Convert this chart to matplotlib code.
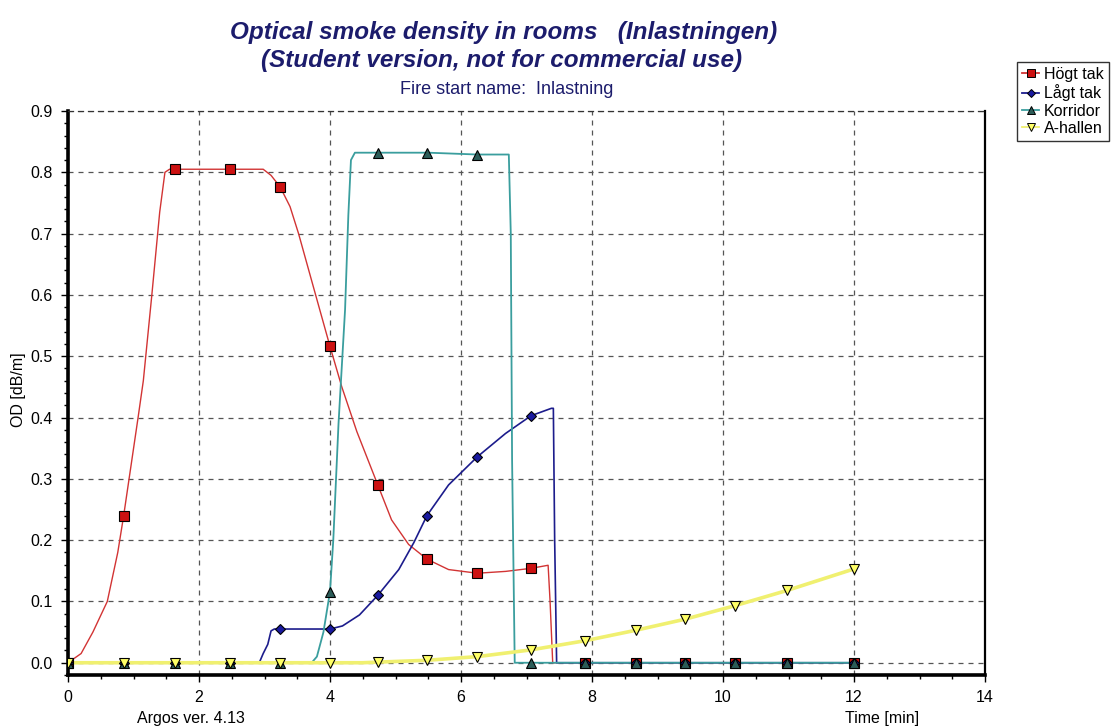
import numpy as np
from matplotlib import pyplot as plt
from matplotlib.ticker import MultipleLocator

plt.rcParams['font.family'] = ['Liberation Sans', 'DejaVu Sans']

# time of the plotted markers [min]
mark_t = [0, 0.85, 1.63, 2.47, 3.24, 4.0, 4.73, 5.48, 6.25, 7.07, 7.9, 8.67, 9.42, 10.18, 10.98, 12.0]

# Högt tak
hogt_t = [0, 0.2, 0.38, 0.6, 0.76, 0.85, 1.07, 1.15, 1.28, 1.4, 1.48, 1.55, 2.98, 3.1, 3.24, 3.39,
          3.52, 3.77, 4.0, 4.18, 4.41, 4.73, 4.94, 5.2, 5.48, 5.81, 6.25, 6.68, 7.07, 7.33, 7.36, 7.4, 12.0]
hogt_v = [0, 0.015, 0.05, 0.10, 0.18, 0.24, 0.40, 0.46, 0.60, 0.735, 0.80, 0.805, 0.805, 0.795, 0.776, 0.744,
          0.70, 0.604, 0.516, 0.45, 0.377, 0.29, 0.233, 0.193, 0.169, 0.152, 0.146, 0.149, 0.154, 0.159, 0.1, 0, 0]
hogt_mark = [0, 0.24, 0.805, 0.805, 0.776, 0.516, 0.29, 0.169, 0.146, 0.154, 0, 0, 0, 0, 0, 0]

# Lågt tak
lagt_t = [0, 2.92, 2.98, 3.05, 3.1, 3.15, 4.0, 4.19, 4.45, 4.73, 5.05, 5.28, 5.48, 5.81, 6.25, 6.68,
          7.07, 7.38, 7.41, 7.43, 7.46, 12.0]
lagt_v = [0, 0, 0.015, 0.03, 0.052, 0.055, 0.055, 0.06, 0.078, 0.11, 0.152, 0.196, 0.24, 0.29, 0.336, 0.374,
          0.403, 0.415, 0.415, 0.2, 0, 0]
lagt_mark = [0, 0, 0, 0, 0.055, 0.055, 0.11, 0.24, 0.336, 0.403, 0, 0, 0, 0, 0, 0]

# Korridor
korr_t = [0, 3.72, 3.8, 3.9, 4.0, 4.05, 4.13, 4.23, 4.28, 4.32, 4.38, 5.5, 6.25, 6.73, 6.76, 6.78, 6.82, 12.0]
korr_v = [0, 0, 0.01, 0.05, 0.116, 0.2, 0.39, 0.576, 0.73, 0.82, 0.832, 0.832, 0.829, 0.829, 0.70, 0.33, 0, 0]
korr_mark = [0, 0, 0, 0, 0, 0.116, 0.832, 0.832, 0.829, 0, 0, 0, 0, 0, 0, 0]

# A-hallen
ahal_t = [0, 4.5, 4.73, 5.48, 6.25, 7.07, 7.9, 8.67, 9.42, 10.18, 10.98, 12.0]
ahal_v = [0, 0, 0.001, 0.004, 0.01, 0.021, 0.036, 0.053, 0.071, 0.093, 0.118, 0.153]
ahal_mark = [0, 0, 0, 0, 0, 0, 0.001, 0.004, 0.01, 0.021, 0.036, 0.053, 0.071, 0.093, 0.118, 0.153]

series = [
    ("Högt tak", hogt_t, hogt_v, hogt_mark, '#d23434', 1.0, '#cc1111', 's', 7.0),
    ("Lågt tak", lagt_t, lagt_v, lagt_mark, '#1c1c8c', 1.2, '#1a1aa0', 'D', 5.0),
    ("Korridor", korr_t, korr_v, korr_mark, '#3a9e9e', 1.3, '#2c5c58', '^', 7.0),
    ("A-hallen", ahal_t, ahal_v, ahal_mark, '#f0f070', 2.6, '#ffff66', 'v', 7.0),
]

fig = plt.figure(figsize=(11.15, 7.26), dpi=100)
ax = fig.add_axes([68 / 1115, 1 - 675 / 726, (985 - 68) / 1115, (675 - 111) / 726])

for i, (name, t, v, mv, lc, lw, mc, mk, ms) in enumerate(series):
    ax.plot(t, v, color=lc, lw=lw, zorder=3 + i)
    ax.plot(mark_t, mv, ls='none', marker=mk, ms=ms, mfc=mc, mec='black', mew=0.8, zorder=10 + i)
    ax.plot([], [], color=lc, lw=1.3, marker=mk, ms=ms * 0.85, mfc=mc, mec='black', mew=0.7, label=name)

ax.set_xlim(0, 14)
ax.set_ylim(-0.02, 0.9)
ax.xaxis.set_major_locator(MultipleLocator(2))
ax.xaxis.set_minor_locator(MultipleLocator(0.5))
ax.yaxis.set_major_locator(MultipleLocator(0.1))
ax.yaxis.set_minor_locator(MultipleLocator(0.02))
ax.yaxis.set_major_formatter(lambda v, pos: f"{v:.1f}")
ax.tick_params(which='major', direction='out', length=5, width=1, labelsize=11.5, colors='black', pad=6)
ax.tick_params(which='minor', direction='out', length=3, width=1)
ax.grid(True, which='major', color='#555555', ls=(0, (4, 4)), lw=0.9)

ax.spines['left'].set_linewidth(2.6)
ax.spines['bottom'].set_linewidth(2.6)
ax.spines['right'].set_linewidth(1.6)
ax.spines['top'].set_linestyle((0, (4, 4)))
ax.spines['top'].set_linewidth(0.9)
ax.spines['top'].set_color('#333333')

navy = '#1c1c6c'
fig.text(504 / 1115, 1 - 33 / 726, "Optical smoke density in rooms   (Inlastningen)", ha='center', va='center',
         fontsize=17.5, fontweight='bold', fontstyle='italic', color=navy)
fig.text(502 / 1115, 1 - 60 / 726, "(Student version, not for commercial use)", ha='center', va='center',
         fontsize=17.5, fontweight='bold', fontstyle='italic', color=navy)
fig.text(507 / 1115, 1 - 89 / 726, "Fire start name:  Inlastning", ha='center', va='center',
         fontsize=13, color=navy)

fig.text(19 / 1115, 1 - 390 / 726, "OD [dB/m]", rotation=90, ha='center', va='center', fontsize=11.5)
fig.text(191 / 1115, 1 - 719 / 726, "Argos ver. 4.13", ha='center', va='center', fontsize=11.5)
fig.text(882 / 1115, 1 - 719 / 726, "Time [min]", ha='center', va='center', fontsize=11.5)

leg = fig.legend(loc='upper left', bbox_to_anchor=(1017 / 1115, 1 - 62 / 726), fontsize=11.5,
                 frameon=True, fancybox=False, edgecolor='black', borderpad=0.3, labelspacing=0.15,
                 handlelength=1.1, handletextpad=0.3, borderaxespad=0)
leg.get_frame().set_linewidth(1.0)

plt.savefig("out.png", dpi=100)
